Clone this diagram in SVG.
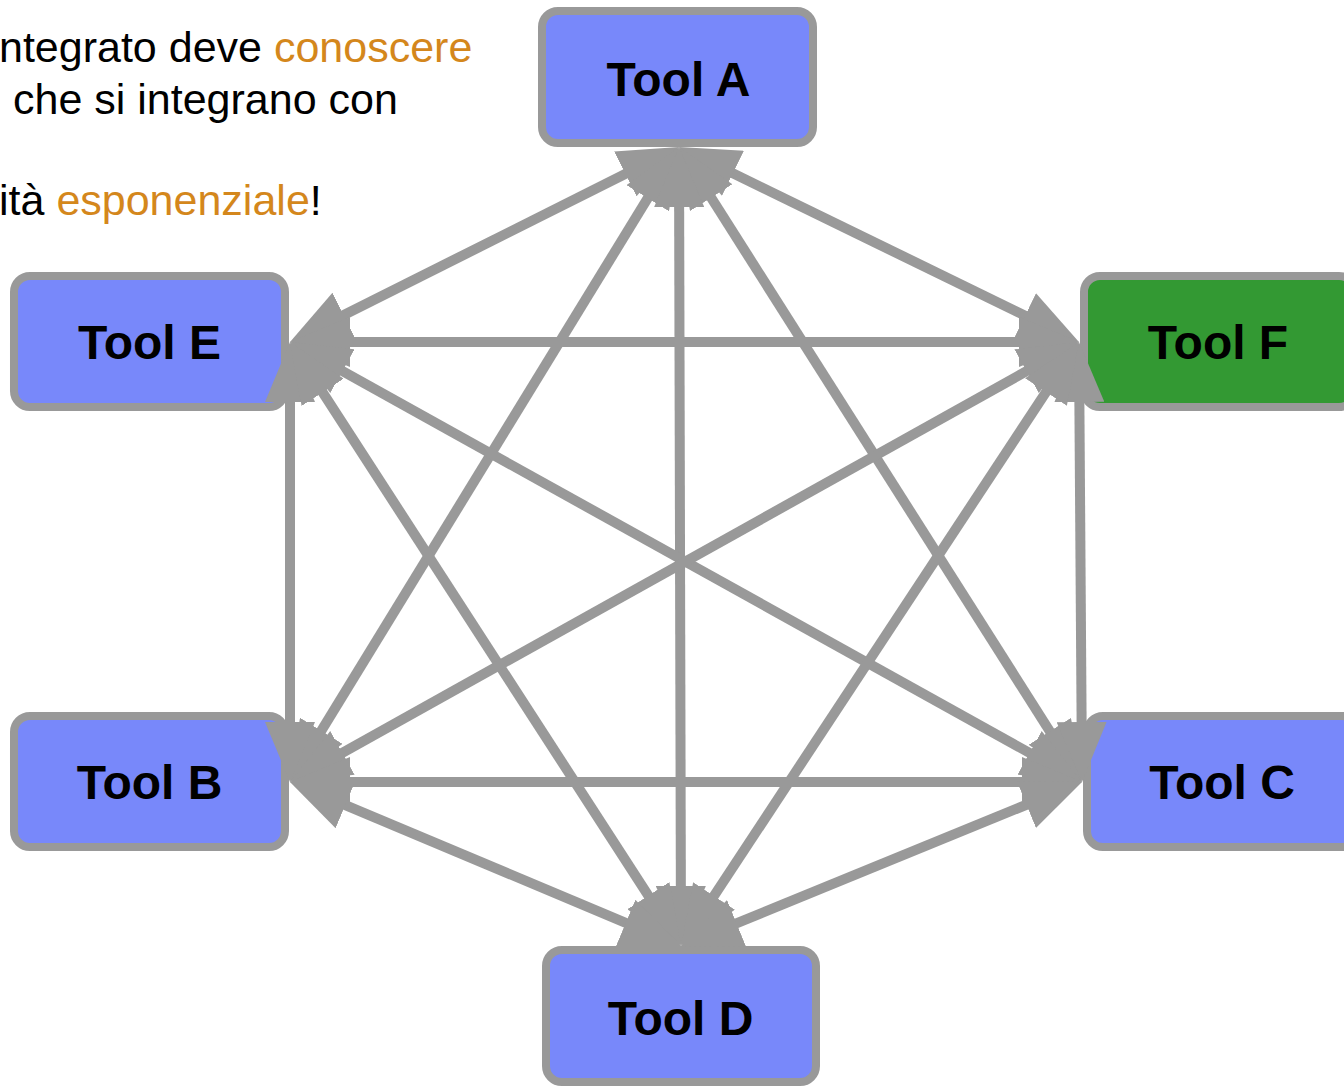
<svg xmlns="http://www.w3.org/2000/svg" width="1344" height="1087" viewBox="0 0 1344 1087">
  <style>
    .node rect { stroke: #999999; stroke-width: 8; }
    .blue { fill: #7888FA; }
    .green { fill: #339933; }
    .label { font-family: "Liberation Sans", Arial, sans-serif; font-weight: bold; font-size: 48px; fill: #000; text-anchor: middle; }
    .intro { font-family: "Liberation Sans", Arial, sans-serif; font-size: 43px; fill: #000; }
    .hl { fill: #D4871C; }
    .edge { stroke: #999999; stroke-width: 10; fill: none; marker-start: url(#arrow); marker-end: url(#arrow); }
  </style>
  <defs>
    <marker id="arrow" viewBox="0 0 6 5" refX="4" refY="2.5" markerWidth="6" markerHeight="5" orient="auto-start-reverse">
      <path d="M0,0 L6,2.5 L0,5 z" fill="#999999"/>
    </marker>
  </defs>
  <rect width="1344" height="1087" fill="#ffffff"/>

  <g id="intro-text">
    <text class="intro" x="-1" y="62">ntegrato deve <tspan class="hl">conoscere</tspan></text>
    <text class="intro" x="13" y="113.5">che si integrano con</text>
    <text class="intro" x="-1" y="215">ità <tspan class="hl">esponenziale</tspan>!</text>
  </g>

  <g id="node-a" class="node">
    <rect class="blue" x="542" y="11" width="271" height="132" rx="16"/>
    <text class="label" x="678.5" y="96">Tool A</text>
  </g>
  <g id="node-e" class="node">
    <rect class="blue" x="14" y="276" width="271" height="131" rx="16"/>
    <text class="label" x="149.5" y="359">Tool E</text>
  </g>
  <g id="node-f" class="node">
    <rect class="green" x="1084" y="276" width="271" height="131" rx="16"/>
    <text class="label" x="1218" y="359">Tool F</text>
  </g>
  <g id="node-b" class="node">
    <rect class="blue" x="14" y="716" width="271" height="131" rx="16"/>
    <text class="label" x="149.5" y="799">Tool B</text>
  </g>
  <g id="node-c" class="node">
    <rect class="blue" x="1087" y="716" width="271" height="131" rx="16"/>
    <text class="label" x="1222" y="799">Tool C</text>
  </g>
  <g id="node-d" class="node">
    <rect class="blue" x="546" y="950" width="270" height="132" rx="16"/>
    <text class="label" x="680.5" y="1035">Tool D</text>
  </g>

  <g id="connectors">
    <line class="edge" x1="661.1" y1="156.0" x2="307.9" y2="333.0"/>
    <line class="edge" x1="697.0" y1="155.8" x2="1061.0" y2="333.2"/>
    <line class="edge" x1="668.6" y1="164.1" x2="300.4" y2="764.9"/>
    <line class="edge" x1="689.7" y1="163.9" x2="1071.3" y2="765.1"/>
    <line class="edge" x1="679.05" y1="167" x2="680.95" y2="926"/>
    <line class="edge" x1="310" y1="342" x2="1059" y2="342"/>
    <line class="edge" x1="290" y1="362" x2="290" y2="762"/>
    <line class="edge" x1="307.5" y1="351.7" x2="1064.5" y2="772.3"/>
    <line class="edge" x1="300.9" y1="358.8" x2="670.1" y2="929.2"/>
    <line class="edge" x1="1061.5" y1="351.7" x2="307.5" y2="772.3"/>
    <line class="edge" x1="1079.1" y1="362" x2="1081.9" y2="762"/>
    <line class="edge" x1="1068.0" y1="358.7" x2="692.0" y2="929.3"/>
    <line class="edge" x1="310" y1="782" x2="1062" y2="782"/>
    <line class="edge" x1="308.4" y1="789.7" x2="662.6" y2="938.3"/>
    <line class="edge" x1="1063.5" y1="789.6" x2="699.5" y2="938.4"/>
  </g>
</svg>
